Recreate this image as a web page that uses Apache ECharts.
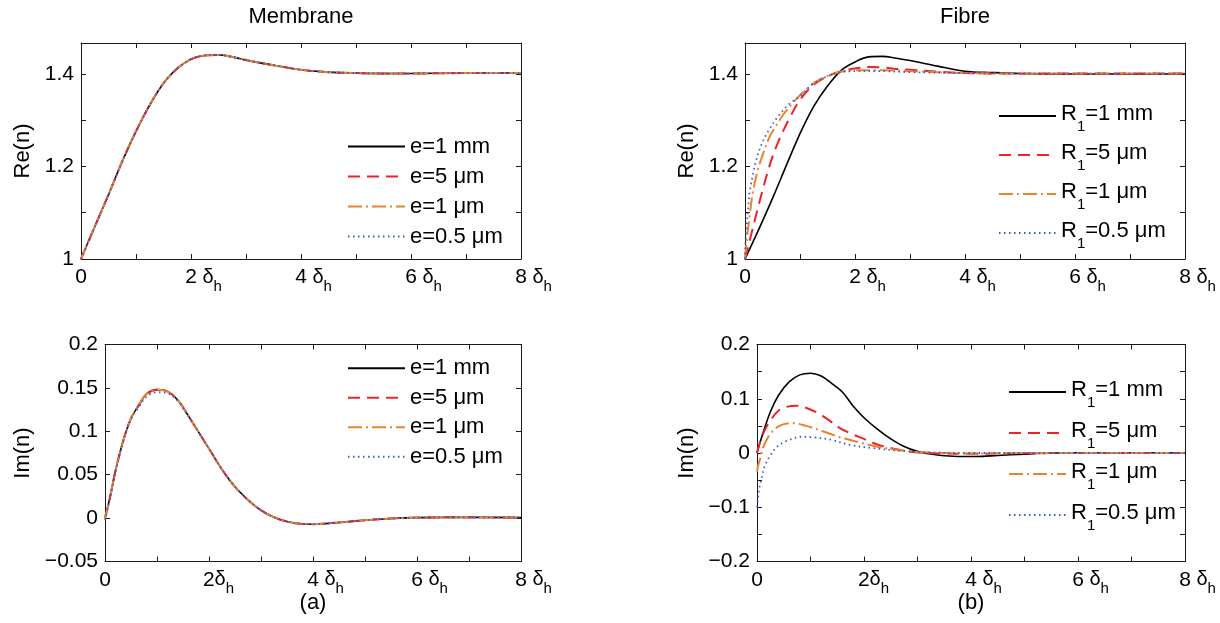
<!DOCTYPE html>
<html><head><meta charset="utf-8">
<script src="https://cdn.jsdelivr.net/npm/echarts/dist/echarts.min.js"></script>
<style>html,body{margin:0;padding:0;background:#fff}#c{width:1220px;height:623px}</style>
</head><body><div id="c"></div>
<script>
// ---------- text ----------
const panelTitles = ['Membrane', 'Fibre'];
const panelLetters = ['(a)', '(b)'];
const yNames = ['Re(n)', 'Re(n)', 'Im(n)', 'Im(n)'];
const memNames = ['e=1 mm', 'e=5 μm', 'e=1 μm', 'e=0.5 μm'];
const fibNames = ['R1=1 mm', 'R1=5 μm', 'R1=1 μm', 'R1=0.5 μm'];
const xTickLabelsTop = ['0', '2 δh', '4 δh', '6 δh', '8 δh'];
const xTickLabelsBottom = ['0', '2δh', '4 δh', '6 δh', '8 δh'];
const xTickValues = [0, 2, 4, 6, 8];

// ---------- Membrane Re(n) (all four thicknesses overlap) ----------
const reMemX = [0,0.25,0.5,0.75,1,1.25,1.5,1.75,2,2.25,2.5,2.75,3,3.5,4,4.5,5,5.5,6,7,8];
const reMemY = [1.000,1.070,1.139,1.211,1.276,1.333,1.380,1.412,1.432,1.440,1.441,1.437,1.430,1.419,1.409,1.404,1.402,1.401,1.401,1.402,1.402];

// ---------- Membrane Im(n) ----------
const imMemX = [0,0.1,0.2,0.35,0.5,0.65,0.8,1.0,1.2,1.4,1.6,1.8,2.0,2.25,2.5,2.75,3.0,3.25,3.5,3.75,4.0,4.5,5,5.5,6,7,8];
const imMemY = [0,0.025,0.054,0.089,0.115,0.130,0.143,0.148,0.146,0.136,0.118,0.099,0.080,0.056,0.036,0.021,0.009,0.001,-0.004,-0.0065,-0.007,-0.005,-0.0025,-0.0005,0.0005,0.001,0.0005];
const imMemY05 = [-0.002,0.024,0.053,0.088,0.114,0.128,0.140,0.145,0.144,0.135,0.118,0.099,0.080,0.056,0.036,0.021,0.009,0.001,-0.004,-0.0065,-0.007,-0.005,-0.0025,-0.0005,0.0005,0.001,0.0005];

// ---------- Fibre Re(n) ----------
const reF1mmX = [0,0.25,0.5,0.75,1,1.25,1.5,1.75,2,2.25,2.5,2.75,3,3.5,4,4.5,5,6,7,8];
const reF1mmY = [1.000,1.064,1.131,1.202,1.271,1.330,1.374,1.408,1.426,1.437,1.438,1.434,1.429,1.417,1.406,1.403,1.401,1.400,1.400,1.400];
const reF5X = [0,0.05,0.1,0.2,0.3,0.45,0.6,0.8,1.0,1.25,1.5,1.75,2.0,2.25,2.5,2.75,3.0,3.5,4,5,6,8];
const reF5Y = [1.000,1.025,1.047,1.094,1.140,1.203,1.252,1.302,1.344,1.377,1.395,1.406,1.412,1.415,1.414,1.411,1.409,1.405,1.402,1.401,1.401,1.401];
const reF1X = [0,0.03,0.09,0.15,0.24,0.33,0.45,0.55,0.7,0.88,1.05,1.27,1.5,1.75,2.0,2.5,3.0,3.5,4,5,6,8];
const reF1Y = [1.000,1.040,1.099,1.149,1.195,1.228,1.265,1.285,1.313,1.339,1.360,1.382,1.396,1.405,1.408,1.408,1.406,1.404,1.402,1.401,1.401,1.401];
const reF05X = [0,0.01,0.03,0.06,0.09,0.15,0.2,0.3,0.45,0.6,0.8,1.0,1.25,1.5,1.75,2.0,2.5,3.0,4,5,6,8];
const reF05Y = [1.000,1.040,1.070,1.113,1.149,1.185,1.212,1.248,1.282,1.308,1.335,1.352,1.380,1.395,1.404,1.406,1.406,1.404,1.402,1.401,1.401,1.401];

// ---------- Fibre Im(n) ----------
const imF1mmX = [0,0.1,0.25,0.4,0.6,0.8,1.0,1.2,1.4,1.6,1.8,2.0,2.25,2.5,2.75,3.0,3.25,3.5,3.8,4.1,4.5,5,5.5,6,7,8];
const imF1mmY = [0,0.033,0.076,0.106,0.131,0.144,0.147,0.142,0.128,0.112,0.086,0.065,0.044,0.026,0.012,0.003,-0.002,-0.005,-0.0065,-0.0065,-0.0045,-0.002,0,0.0005,0.0005,0];
const imF5X = [0,0.05,0.15,0.25,0.4,0.55,0.75,0.95,1.15,1.35,1.55,1.75,2.0,2.3,2.7,3.0,3.5,4,5,6,8];
const imF5Y = [0,0.018,0.043,0.060,0.078,0.085,0.087,0.082,0.073,0.060,0.046,0.036,0.026,0.014,0.005,0.001,-0.001,-0.0015,-0.0005,0,0];
const imF1X = [0,0.03,0.06,0.12,0.24,0.42,0.67,0.92,1.23,1.55,1.86,2.23,2.6,3.0,3.5,4,5,6,8];
const imF1Y = [-0.034,-0.02,-0.01,0.011,0.034,0.050,0.055,0.050,0.040,0.029,0.021,0.012,0.006,0.002,0,-0.001,0,0,0];
const imF05X = [0,0.02,0.04,0.08,0.14,0.24,0.39,0.6,0.83,1.05,1.36,1.73,2.17,2.67,3.2,4,5,6,8];
const imF05Y = [-0.1,-0.082,-0.066,-0.049,-0.025,-0.006,0.013,0.024,0.030,0.029,0.025,0.015,0.009,0.004,0.001,0,0,0,0];

// ---------- styling ----------
const FONT = "'Liberation Sans', Arial, Helvetica, sans-serif";
const AX = '#1a1a1a';
const styles = [
  {color:'#000000', width:1.6, type:'solid'},
  {color:'#ee2229', width:2, type:[12,7]},
  {color:'#e8842c', width:2, type:[14,4,2,4]},
  {color:'#3a5cc8', width:1.8, type:[1.5,3.5]}
];
const grids = [
  {left:81, top:43, width:440, height:216},
  {left:745, top:43, width:440, height:216},
  {left:105, top:344.5, width:416, height:217},
  {left:757, top:344.5, width:428, height:217}
];
const yMin = [1, 1, -0.05, -0.2];
const yMax = [1.467, 1.467, 0.2, 0.2];
const yInt = [0.1, 0.1, 0.05, 0.05];
const yLabelStep = [0.2, 0.2, 0.05, 0.1];
const yNameGap = [47, 47, 71, 59];

function zip(xs, ys){ return xs.map((x,i)=>[x, ys[i]]); }
function fmtNum(v){
  const r = Math.round(v*1000)/1000;
  let s = String(Math.abs(r));
  if (s.indexOf('.')===0) s = '0'+s;
  return (r < 0 ? '\u2212' : '') + s;
}
function yFormatter(k){
  return function(v){
    const qq = v / yLabelStep[k];
    if (Math.abs(qq - Math.round(qq)) > 1e-6) return '';
    return fmtNum(v);
  };
}
function xFormatter(labels){
  return function(v){
    const idx = xTickValues.indexOf(Math.round(v));
    if (Math.abs(v-Math.round(v))>1e-6 || idx < 0) return '';
    const t = labels[idx];
    const j = t.indexOf('δ');
    if (j < 0) return '{n|' + t + '}';
    const num = t.slice(0, j).trim();
    const spaced = t.slice(0, j).length > num.length;
    const sub = t.slice(j+1);
    return '{' + (spaced ? 'pw' : 'pn') + '| }{n|' + num + '}{d|' + (spaced ? ' ' : '') + 'δ}{s|' + sub + '}';
  };
}
const xRich = {
  n: {fontSize:21, lineHeight:22, verticalAlign:'top', fontFamily:FONT, color:'#000'},
  d: {fontSize:20, lineHeight:22, verticalAlign:'top', fontFamily:FONT, color:'#000'},
  s: {fontSize:15, lineHeight:16, padding:[12,0,0,0], verticalAlign:'top', fontFamily:FONT, color:'#000'},
  pw: {width:25, lineHeight:22, verticalAlign:'top'},
  pn: {width:19, lineHeight:22, verticalAlign:'top'}
};

const xAxes = [], yAxes = [];
for (let k=0;k<4;k++){
  const labels = k < 2 ? xTickLabelsTop : xTickLabelsBottom;
  xAxes.push({type:'value', gridIndex:k, min:0, max:8, interval:1, position:'bottom',
    axisLine:{show:true, onZero:false, lineStyle:{color:AX, width:1}},
    axisTick:{show:true, inside:true, length:5, lineStyle:{color:AX}},
    splitLine:{show:false},
    axisLabel:{show:true, margin:8, formatter:xFormatter(labels), rich:xRich, color:'#000', fontFamily:FONT, fontSize:21, showMaxLabel:true, showMinLabel:true}
  });
  yAxes.push({type:'value', gridIndex:k, min:yMin[k], max:yMax[k], interval:yInt[k], position:'left',
    name:yNames[k], nameLocation:'middle', nameGap:yNameGap[k], nameRotate:90,
    nameTextStyle:{fontFamily:FONT, fontSize:22, color:'#000'},
    axisLine:{show:true, onZero:false, lineStyle:{color:AX, width:1}},
    axisTick:{show:true, inside:true, length:5, lineStyle:{color:AX}},
    splitLine:{show:false},
    axisLabel:{show:true, margin:7, formatter:yFormatter(k), color:'#000', fontFamily:FONT, fontSize:21, showMaxLabel:true}
  });
}
for (let k=0;k<4;k++){
  xAxes.push({type:'value', gridIndex:k, min:0, max:8, interval:1, position:'top',
    axisLine:{show:true, onZero:false, lineStyle:{color:AX, width:1}},
    axisTick:{show:true, inside:true, length:5, lineStyle:{color:AX}},
    splitLine:{show:false}, axisLabel:{show:false}});
  yAxes.push({type:'value', gridIndex:k, min:yMin[k], max:yMax[k], interval:yInt[k], position:'right',
    axisLine:{show:true, onZero:false, lineStyle:{color:AX, width:1}},
    axisTick:{show:true, inside:true, length:5, lineStyle:{color:AX}},
    splitLine:{show:false}, axisLabel:{show:false}});
}

function mk(name, xs, ys, k, si){
  return {type:'line', name:name, xAxisIndex:k, yAxisIndex:k, data:zip(xs, ys),
    symbol:'none', showSymbol:false, smooth:0.35, animation:false,
    lineStyle:styles[si], itemStyle:{color:styles[si].color}, z:2+si};
}
const series = [
  mk(memNames[0], reMemX, reMemY, 0, 0),
  mk(memNames[1], reMemX, reMemY, 0, 1),
  mk(memNames[2], reMemX, reMemY, 0, 2),
  mk(memNames[3], reMemX, reMemY, 0, 3),
  mk(fibNames[0], reF1mmX, reF1mmY, 1, 0),
  mk(fibNames[1], reF5X, reF5Y, 1, 1),
  mk(fibNames[2], reF1X, reF1Y, 1, 2),
  mk(fibNames[3], reF05X, reF05Y, 1, 3),
  mk(memNames[0], imMemX, imMemY, 2, 0),
  mk(memNames[1], imMemX, imMemY, 2, 1),
  mk(memNames[2], imMemX, imMemY, 2, 2),
  mk(memNames[3], imMemX, imMemY05, 2, 3),
  mk(fibNames[0], imF1mmX, imF1mmY, 3, 0),
  mk(fibNames[1], imF5X, imF5Y, 3, 1),
  mk(fibNames[2], imF1X, imF1Y, 3, 2),
  mk(fibNames[3], imF05X, imF05Y, 3, 3)
];

const memLegendText = {fontFamily:FONT, fontSize:22, color:'#000', lineHeight:30};
const fibRich = {
  m: {fontSize:22, lineHeight:26, verticalAlign:'top', fontFamily:FONT, color:'#000'},
  s: {fontSize:15, lineHeight:18, padding:[16,0,0,0], verticalAlign:'top', fontFamily:FONT, color:'#000'}
};
function fibFmt(name){ return '{m|R}{s|1}{m|' + name.slice(2) + '}'; }
const legendBase = {orient:'vertical', padding:0, itemWidth:57, itemHeight:14, selectedMode:false,
  itemStyle:{opacity:0, borderWidth:0}, inactiveColor:'#000'};
const legends = [
  Object.assign({}, legendBase, {data:memNames, left:347, top:131.5, itemGap:0, textStyle:memLegendText}),
  Object.assign({}, legendBase, {data:fibNames, left:998, top:103, itemGap:8, formatter:fibFmt, textStyle:{fontFamily:FONT, fontSize:22, color:'#000', rich:fibRich}}),
  Object.assign({}, legendBase, {data:memNames, left:347, top:353.5, itemGap:0, textStyle:Object.assign({}, memLegendText, {lineHeight:29.5})}),
  Object.assign({}, legendBase, {data:fibNames, left:1008, top:379, itemGap:10, formatter:fibFmt, textStyle:{fontFamily:FONT, fontSize:22, color:'#000', rich:fibRich}})
];

const txt = (s, x, y) => ({type:'text', x:x, y:y, style:{text:s, align:'center', verticalAlign:'middle', font:'22px ' + FONT, fill:'#000'}});
const graphics = [
  txt(panelTitles[0], 301, 17),
  txt(panelTitles[1], 965, 17),
  txt(panelLetters[0], 313, 603),
  txt(panelLetters[1], 971, 603)
];

const chart = echarts.init(document.getElementById('c'), null, {renderer:'canvas'});
chart.setOption({
  animation:false,
  backgroundColor:'#ffffff',
  textStyle:{fontFamily:FONT},
  grid: grids.map(g => Object.assign({containLabel:false, outerBoundsMode:'none', show:false}, g)),
  xAxis: xAxes,
  yAxis: yAxes,
  legend: legends,
  series: series,
  graphic: graphics
});
</script>
</body></html>
